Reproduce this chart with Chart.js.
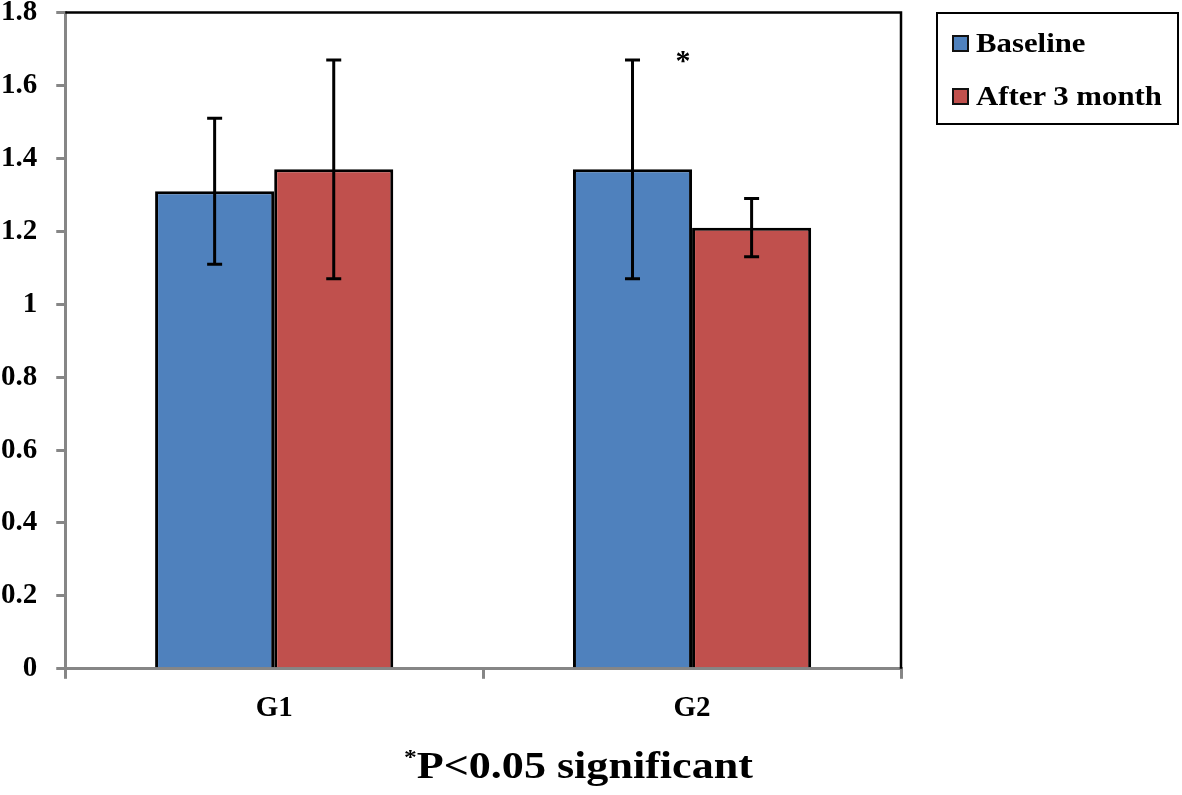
<!DOCTYPE html>
<html>
<head>
<meta charset="utf-8">
<script src="https://cdn.jsdelivr.net/npm/chart.js@4.4.1/dist/chart.umd.min.js"></script>
<style>
  html, body { margin: 0; padding: 0; background: #fff; }
  #wrap { position: relative; width: 1182px; height: 795px; overflow: hidden; }
  canvas { position: absolute; left: 0; top: -18px; }
  .serif { font-family: "Liberation Serif", "Times New Roman", serif; font-weight: bold; color: #000; }
  #legend { position: absolute; left: 936px; top: 12px; width: 239px; height: 109px; border: 2px solid #000; box-sizing: content-box; }
  .item { position: absolute; left: 14px; display: flex; align-items: center; height: 30px; }
  .sw { width: 13px; height: 13px; border: 2px solid #111; margin-right: 7px; }
  .lt { font-size: 28px; transform: scaleX(1.1); transform-origin: left center; white-space: nowrap; }
  #caption { position: absolute; left: 404px; top: 734px; font-size: 38px; white-space: nowrap; transform: scaleX(1.16); transform-origin: left top; line-height: 46px; }
  #caption sup { font-size: 22px; vertical-align: 14px; }
</style>
</head>
<body>
<div id="wrap">
  <canvas id="c" width="1182" height="813"></canvas>
  <div id="legend" class="serif"></div>
  <div id="caption" class="serif"><sup>*</sup>P&lt;0.05 significant</div>
</div>
<script>
const categories = ['G1', 'G2'];
const seriesNames = ['Baseline', 'After 3 month'];
const baseline = [1.31, 1.37];
const baselineErr = [0.20, 0.30];
const after3 = [1.37, 1.21];
const after3Err = [0.30, 0.08];
const yTickLabels = ['0', '0.2', '0.4', '0.6', '0.8', '1', '1.2', '1.4', '1.6', '1.8'];
const starCategory = 'G2';
const starValue = 1.66;

const colors = ['#4F81BD', '#C0504D'];
const FONT = '"Liberation Serif", "Times New Roman", serif';

// HTML legend
const legendEl = document.getElementById('legend');
seriesNames.forEach((name, i) => {
  const it = document.createElement('div');
  it.className = 'item';
  it.style.top = (i === 0 ? 14 : 67) + 'px';
  it.innerHTML = '<div class="sw" style="background:' + colors[i] + '"></div><span class="lt">' + name + '</span>';
  legendEl.appendChild(it);
});

const errorBarPlugin = {
  id: 'errorBars',
  afterDatasetsDraw(chart) {
    const ctx = chart.ctx;
    const yScale = chart.scales.y;
    ctx.save();
    ctx.strokeStyle = '#000';
    ctx.lineWidth = 3;
    chart.data.datasets.forEach((ds, di) => {
      const meta = chart.getDatasetMeta(di);
      meta.data.forEach((bar, i) => {
        const v = ds.data[i];
        const e = ds.errors[i];
        const x = bar.x;
        const yTop = yScale.getPixelForValue(v + e);
        const yBot = yScale.getPixelForValue(v - e);
        ctx.beginPath();
        ctx.moveTo(x, yTop); ctx.lineTo(x, yBot);
        ctx.moveTo(x - 7.5, yTop); ctx.lineTo(x + 7.5, yTop);
        ctx.moveTo(x - 7.5, yBot); ctx.lineTo(x + 7.5, yBot);
        ctx.stroke();
      });
    });
    // significance star
    const xs = chart.scales.x;
    const sx = xs.getPixelForValue(categories.indexOf(starCategory)) - 9;
    const sy = yScale.getPixelForValue(starValue);
    ctx.fillStyle = '#000';
    ctx.font = 'bold 30px ' + FONT;
    ctx.textAlign = 'center';
    ctx.textBaseline = 'middle';
    ctx.fillText('*', sx, sy - 1);
    // frame: top and right borders
    const a = chart.chartArea;
    ctx.strokeStyle = '#000';
    ctx.lineWidth = 2.5;
    ctx.beginPath();
    ctx.moveTo(a.left, a.top);
    ctx.lineTo(a.right, a.top);
    ctx.lineTo(a.right, a.bottom);
    ctx.stroke();
    ctx.restore();
  }
};

new Chart(document.getElementById('c'), {
  type: 'bar',
  data: {
    labels: categories,
    datasets: [
      { label: seriesNames[0], data: baseline, errors: baselineErr, backgroundColor: colors[0], borderColor: '#000', borderWidth: 3, borderSkipped: 'bottom' },
      { label: seriesNames[1], data: after3, errors: after3Err, backgroundColor: colors[1], borderColor: '#000', borderWidth: 3, borderSkipped: 'bottom' }
    ]
  },
  options: {
    responsive: false,
    animation: false,
    devicePixelRatio: 1,
    layout: { padding: { left: -18, top: -6, right: 281, bottom: 57 } },
    plugins: { legend: { display: false }, tooltip: { enabled: false }, title: { display: false } },
    datasets: { bar: { categoryPercentage: 0.57, barPercentage: 1.0 } },
    scales: {
      x: {
        grid: { display: true, drawOnChartArea: false, drawTicks: true, tickLength: 10, color: '#868686', lineWidth: 3, offset: true },
        border: { display: true, color: '#868686', width: 3 },
        ticks: { color: '#000', padding: 18, font: { family: FONT, size: 29, weight: 'bold', lineHeight: 0.8 } }
      },
      y: {
        min: 0, max: 1.8,
        grid: { display: true, drawOnChartArea: false, drawTicks: true, tickLength: 9, color: '#868686', lineWidth: 3 },
        border: { display: true, color: '#868686', width: 3 },
        ticks: {
          stepSize: 0.2,
          color: '#000',
          padding: 19,
          font: { family: FONT, size: 29, weight: 'bold', lineHeight: 0.8 },
          callback: (val, idx) => yTickLabels[idx]
        }
      }
    }
  },
  plugins: [errorBarPlugin]
});
</script>
</body>
</html>
